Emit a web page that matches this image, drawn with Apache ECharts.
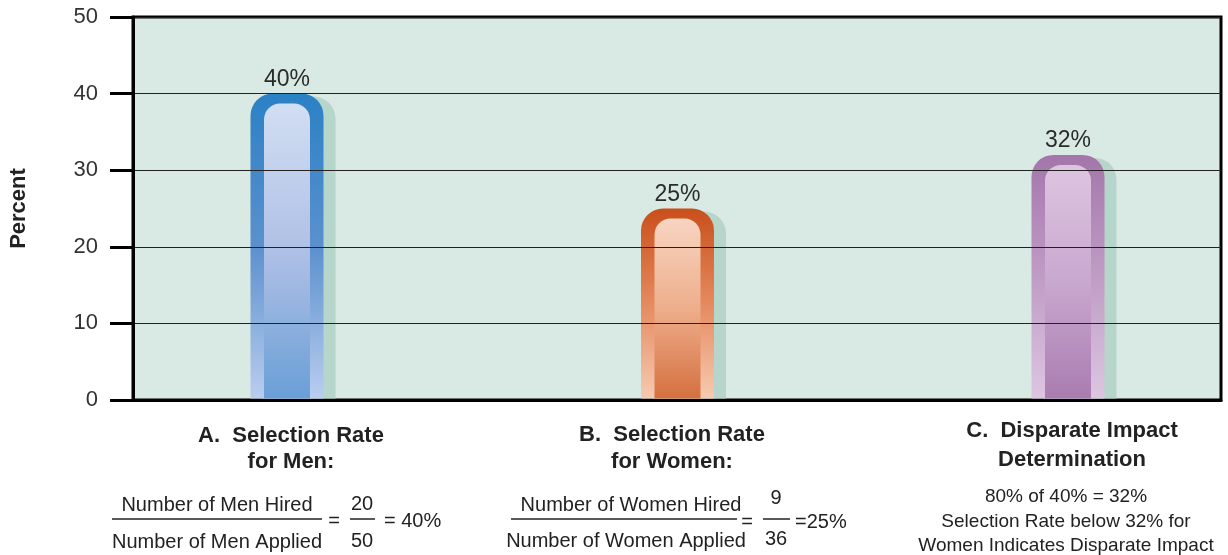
<!DOCTYPE html>
<html><head><meta charset="utf-8">
<script src="https://cdn.jsdelivr.net/npm/echarts@6/dist/echarts.min.js"></script>
<style>html,body{margin:0;padding:0;background:#fff}#c{width:1228px;height:555px}</style>
</head><body><div id="c"></div>
<script>
// ---- data ----
const categories = ['A', 'B', 'C'];
const values = [40, 25, 32];
const yMin = 0, yMax = 50, yStep = 10;
const titlesA = ['A.  Selection Rate', 'for Men:'];
const titlesB = ['B.  Selection Rate', 'for Women:'];
const titlesC = ['C.  Disparate Impact', 'Determination'];
const numerators = ['Number of Men Hired', 'Number of Women Hired'];
const denominators = ['Number of Men Applied', 'Number of Women Applied'];
const countsHired = ['20', '9'];
const countsApplied = ['50', '36'];
const rates = ['= 40%', '=25%'];
const noteC = ['80% of 40% = 32%', 'Selection Rate below 32% for', 'Women Indicates Disparate Impact'];

// ---- styles ----
const FONT = '"Liberation Sans", Arial, Helvetica, sans-serif';
const palette = [
  { outer: ['#2a81c5', '#5b90ce', '#bacdef'], inner: ['#d1def2', '#afc0e6', '#6a9fd6'] },
  { outer: ['#c84f1b', '#e58a5e', '#f6cab1'], inner: ['#f7d5c2', '#eeae8c', '#d5703f'] },
  { outer: ['#a476ab', '#bf9cc5', '#ddc6e2'], inner: ['#ddc5e0', '#c9a8cf', '#aa7cb1'] }
];
const lg = (stops) => new echarts.graphic.LinearGradient(0, 0, 0, 1,
  stops.map((c, i) => ({ offset: i / (stops.length - 1), color: c })));

function renderItem(params, api) {
  const idx = params.dataIndex;
  const top = api.coord([api.value(0), api.value(1)]);
  const base = api.coord([api.value(0), 0]);
  const cx = top[0], ty = top[1], by = base[1] - 1.5;
  const W = 73, w = 46, h = by - ty;
  const p = palette[idx];
  return {
    type: 'group',
    children: [
      { type: 'rect', shape: { x: cx - W / 2 + 12, y: ty + 3, width: W, height: h - 3, r: [22, 22, 0, 0] }, style: { fill: '#b6d5cb' } },
      { type: 'rect', shape: { x: cx - W / 2, y: ty, width: W, height: h, r: [22, 22, 0, 0] }, style: { fill: lg(p.outer) } },
      { type: 'rect', shape: { x: cx - w / 2, y: ty + 10, width: w, height: h - 10, r: [16, 16, 0, 0] }, style: { fill: lg(p.inner) } },
      { type: 'text', x: cx, y: ty - 14, style: { text: api.value(1) + '%', fill: '#2b2b2b', font: '23px ' + FONT, align: 'center', verticalAlign: 'middle' } }
    ]
  };
}

function txt(text, x, y, opts) {
  opts = opts || {};
  return {
    type: 'text', x: x, y: y, silent: true,
    style: {
      text: text, fill: '#222',
      font: (opts.bold ? 'bold ' : '') + (opts.size || 20) + 'px ' + FONT,
      align: opts.align || 'center', verticalAlign: 'middle'
    }
  };
}
function hline(x1, x2, y) {
  return { type: 'line', silent: true, shape: { x1: x1, y1: y, x2: x2, y2: y }, style: { stroke: '#222', lineWidth: 1.5 } };
}

const graphics = [
  // A
  txt(titlesA[0], 291, 436, { bold: true, size: 22 }),
  txt(titlesA[1], 291, 462, { bold: true, size: 22 }),
  txt(numerators[0], 217, 505), hline(112, 322, 519), txt(denominators[0], 217, 542),
  txt('=', 334, 521), txt(countsHired[0], 362, 504), hline(350, 375, 519), txt(countsApplied[0], 362, 541),
  txt(rates[0], 384, 521, { align: 'left' }),
  // B
  txt(titlesB[0], 672, 435, { bold: true, size: 22 }),
  txt(titlesB[1], 672, 462, { bold: true, size: 22 }),
  txt(numerators[1], 631, 505), hline(511, 737, 519), txt(denominators[1], 626, 541),
  txt('=', 747, 522), txt(countsHired[1], 776, 498), hline(763, 790, 519), txt(countsApplied[1], 776, 539),
  txt(rates[1], 795, 522, { align: 'left' }),
  // C
  txt(titlesC[0], 1072, 431, { bold: true, size: 22 }),
  txt(titlesC[1], 1072, 460, { bold: true, size: 22 }),
  txt(noteC[0], 1066, 497, { size: 19 }), txt(noteC[1], 1066, 522, { size: 19 }), txt(noteC[2], 1066, 546, { size: 19 })
];

const chart = echarts.init(document.getElementById('c'), null, { renderer: 'canvas' });
chart.setOption({
  animation: false,
  grid: [
    { left: 133, right: 7, top: 17, bottom: 155, show: true, backgroundColor: '#d9e9e3', borderColor: '#000', borderWidth: 3 },
    { left: 287, width: 781, top: 17, bottom: 155 }
  ],
  xAxis: [
    { type: 'category', gridIndex: 0, data: categories, z: 10,
      axisLine: { show: true, lineStyle: { color: '#000', width: 3 } },
      axisTick: { show: false }, axisLabel: { show: false }, splitLine: { show: false } },
    { type: 'category', gridIndex: 1, data: categories, show: false, boundaryGap: false }
  ],
  yAxis: [
    { type: 'value', gridIndex: 0, min: yMin, max: yMax, interval: yStep, z: 10,
      name: 'Percent', nameLocation: 'middle', nameGap: 103,
      nameTextStyle: { fontFamily: FONT, fontWeight: 'bold', fontSize: 22, color: '#222' },
      axisLine: { show: true, lineStyle: { color: '#000', width: 3 } },
      axisTick: { show: true, length: 23, lineStyle: { color: '#000', width: 3 } },
      axisLabel: { margin: 35, fontFamily: FONT, fontSize: 22, color: '#333' },
      splitLine: { show: true, lineStyle: { color: '#222', width: 1 } } },
    { type: 'value', gridIndex: 1, min: yMin, max: yMax, interval: yStep, show: false, splitLine: { show: false } }
  ],
  series: [{
    type: 'custom', xAxisIndex: 1, yAxisIndex: 1, renderItem: renderItem,
    data: values.map((v, i) => [i, v]), z: 5
  }],
  graphic: graphics
});
</script></body></html>
